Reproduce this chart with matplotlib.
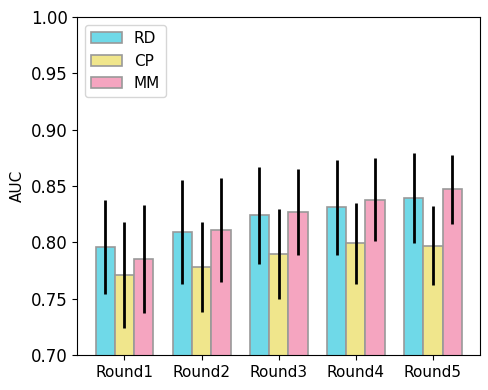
import numpy as np
import matplotlib.pyplot as plt

rounds = ['Round1', 'Round2', 'Round3', 'Round4', 'Round5']
rd = [0.796, 0.809, 0.824, 0.831, 0.839]
cp = [0.771, 0.778, 0.790, 0.799, 0.797]
mm = [0.785, 0.811, 0.827, 0.838, 0.847]
rd_err = [0.042, 0.046, 0.043, 0.042, 0.040]
cp_err = [0.047, 0.040, 0.040, 0.036, 0.035]
mm_err = [0.048, 0.046, 0.038, 0.037, 0.031]

fig, ax = plt.subplots(figsize=(4.89, 3.9), dpi=100)
x = np.arange(len(rounds))
w = 0.25
series = [(rd, rd_err, 'RD', '#6fd9e8'), (cp, cp_err, 'CP', '#f0e68c'), (mm, mm_err, 'MM', '#f5a5c0')]
for i, (vals, errs, label, color) in enumerate(series):
    ax.bar(x + (i - 1) * w, vals, w, yerr=errs, color=color, edgecolor='#999999',
           linewidth=1.2, label=label, error_kw=dict(elinewidth=2, ecolor='black', capsize=0))

ax.set_ylim(0.70, 1.00)
ax.set_xticks(x)
ax.set_xticklabels(rounds, fontsize=11)
ax.set_ylabel('AUC', fontsize=11)
ax.tick_params(axis='y', labelsize=12)
ax.legend(loc='upper left', fontsize=11)
fig.subplots_adjust(left=0.158, right=0.982, top=0.956, bottom=0.09)
fig.savefig('out.png')
